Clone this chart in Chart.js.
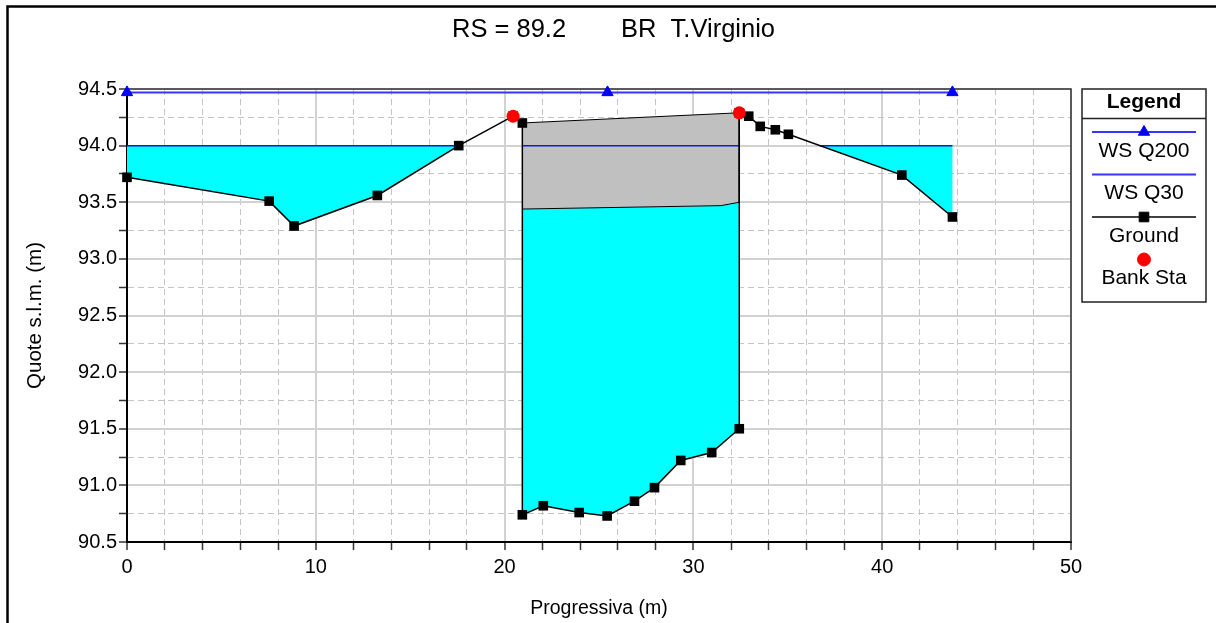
<!DOCTYPE html>
<html>
<head>
<meta charset="utf-8">
<title>RS = 89.2 BR T.Virginio</title>
<script src="https://cdn.jsdelivr.net/npm/chart.js@4.4.0/dist/chart.umd.min.js"></script>
<style>
  html, body { margin: 0; padding: 0; background: #fff; }
  #wrap { width: 1216px; height: 623px; }
</style>
</head>
<body>
<div id="wrap"><canvas id="chart" width="1216" height="623"></canvas></div>
<script>
// Cross section RS 89.2, bridge T.Virginio (stations and elevations in m)
const groundSta  = [0, 7.53, 8.85, 13.26, 17.57, 20.45, 20.94, 20.94, 22.05, 23.95, 25.43, 26.88,
                    27.94, 29.33, 30.97, 32.43, 32.43, 32.93, 33.54, 34.34, 35.03, 41.04, 43.72];
const groundElev = [93.72, 93.51, 93.29, 93.56, 94.00, 94.26, 94.20, 90.74, 90.82, 90.76, 90.73, 90.86,
                    90.98, 91.22, 91.29, 91.50, 94.29, 94.26, 94.17, 94.14, 94.10, 93.74, 93.37];

const bankSta  = [20.45, 32.43];
const bankElev = [94.26, 94.29];

// bridge deck: high chord and low chord
const deckSta      = [20.94, 32.43];
const deckHigh     = [94.20, 94.29];
const lowChordSta  = [20.94, 31.46, 32.43];
const lowChordElev = [93.44, 93.47, 93.50];

// water surfaces
const wsQ200 = 94.47;
const wsQ200Sta = [0, 25.45, 43.72];
const wsQ30 = 94.0;

// axes
const xRange = [0, 50];
const yRange = [90.5, 94.5];
const xStep = 2, xLabelEvery = 10;
const yStep = 0.25, yLabelEvery = 0.5;

const FONT = "'Liberation Sans', Arial, Helvetica, sans-serif";
const CYAN = '#00ffff';
const DECK = '#c0c0c0';
const Q200_COLOR = '#3535ff';
const Q30_COLOR = '#1414ee';

const toPoints = (xs, ys) => xs.map((x, i) => ({ x, y: ys[i] }));

// station where the ground line crosses a water level, searched between two stations
function groundCrossing(level, from, to) {
  for (let i = 0; i < groundSta.length - 1; i++) {
    const x0 = groundSta[i], x1 = groundSta[i + 1];
    const y0 = groundElev[i], y1 = groundElev[i + 1];
    if (x0 < from || x1 > to || x0 === x1) continue;
    if ((y0 - level) * (y1 - level) <= 0) {
      return x0 + (level - y0) / (y1 - y0) * (x1 - x0);
    }
  }
  return from;
}

// water polygon: surface from -> to, then back along the bed
function wetArea(level, from, to) {
  const bed = [];
  groundSta.forEach((x, i) => {
    if (x >= from && x <= to && groundElev[i] <= level) bed.push({ x, y: groundElev[i] });
  });
  return [{ x: from, y: level }, { x: to, y: level }, ...bed.reverse()];
}

const xStart = groundSta[0];
const xEnd = groundSta[groundSta.length - 1];
const leftEdge = groundCrossing(wsQ30, xStart, deckSta[0]);
const rightEdge = groundCrossing(wsQ30, deckSta[1], xEnd);

const openingBed = toPoints(groundSta, groundElev)
  .filter(p => p.x >= deckSta[0] && p.x <= deckSta[1] && p.y < lowChordElev[0]);
const openingWater = [...toPoints(lowChordSta, lowChordElev), ...openingBed.reverse()];
const deckShape = [...toPoints(deckSta, deckHigh), ...toPoints(lowChordSta, lowChordElev).reverse()];

const q30Line = [
  { x: xStart, y: wsQ30 }, { x: leftEdge, y: wsQ30 }, { x: leftEdge, y: null },
  { x: deckSta[0], y: wsQ30 }, { x: deckSta[1], y: wsQ30 }, { x: deckSta[1], y: null },
  { x: rightEdge, y: wsQ30 }, { x: xEnd, y: wsQ30 }
];

const polygon = (data, color, order, border) => ({
  data, order,
  backgroundColor: color,
  borderColor: border || 'rgba(0,0,0,0)',
  borderWidth: 1,
  fill: 'shape',
  pointRadius: 0
});

const isMajor = (v, every) => Math.abs(v / every - Math.round(v / every)) < 1e-6;

const frame = {
  id: 'frame',
  beforeDraw(chart) {
    const { ctx, width, height } = chart;
    ctx.save();
    ctx.fillStyle = '#fff';
    ctx.fillRect(0, 0, width, height);
    ctx.restore();
  },
  beforeDatasetsDraw(chart) {
    const { ctx, chartArea: a } = chart;
    ctx.save();
    ctx.strokeStyle = '#333';
    ctx.lineWidth = 1.5;
    ctx.beginPath();
    ctx.moveTo(a.left, a.top);
    ctx.lineTo(a.right, a.top);
    ctx.lineTo(a.right, a.bottom);
    ctx.stroke();
    ctx.restore();
  },
  afterDraw(chart) {
    const { ctx, width, height } = chart;
    ctx.save();
    // outer page frame
    ctx.strokeStyle = '#000';
    ctx.lineWidth = 2.5;
    ctx.beginPath();
    ctx.moveTo(7.5, height + 5);
    ctx.lineTo(7.5, 6.5);
    ctx.lineTo(width + 5, 6.5);
    ctx.stroke();

    // title
    ctx.fillStyle = '#000';
    ctx.font = '25.5px ' + FONT;
    ctx.textAlign = 'left';
    ctx.textBaseline = 'middle';
    ctx.fillText('RS = 89.2', 452, 30);
    ctx.fillText('BR  T.Virginio', 621, 30);

    // legend box
    const L = { left: 1082, top: 89, right: 1206, bottom: 302 };
    const cx = (L.left + L.right) / 2;
    ctx.textAlign = 'center';
    ctx.lineWidth = 1.5;
    ctx.strokeStyle = '#222';
    ctx.strokeRect(L.left, L.top, L.right - L.left, L.bottom - L.top);
    ctx.beginPath();
    ctx.moveTo(L.left, 118.5);
    ctx.lineTo(L.right, 118.5);
    ctx.stroke();
    ctx.font = 'bold 21px ' + FONT;
    ctx.fillText('Legend', cx, 102);

    const entries = [
      { text: 'WS Q200', y: 132, line: Q200_COLOR, width: 2, marker: 'triangle', color: '#0000ff', r: 6.5 },
      { text: 'WS Q30', y: 174.5, line: Q200_COLOR, width: 2 },
      { text: 'Ground', y: 217, line: '#000', width: 1.5, marker: 'rect', color: '#000', r: 6.8 },
      { text: 'Bank Sta', y: 259.5, marker: 'circle', color: '#ff0000', r: 6.5 }
    ];
    ctx.font = '21px ' + FONT;
    entries.forEach(e => {
      if (e.line) {
        ctx.strokeStyle = e.line;
        ctx.lineWidth = e.width;
        ctx.beginPath();
        ctx.moveTo(1092, e.y);
        ctx.lineTo(1196, e.y);
        ctx.stroke();
      }
      if (e.marker) {
        ctx.fillStyle = e.color;
        ctx.strokeStyle = e.color;
        ctx.lineWidth = 1;
        Chart.helpers.drawPoint(ctx, { pointStyle: e.marker, radius: e.r, rotation: 0, borderWidth: 1 }, cx, e.y);
      }
      ctx.fillStyle = '#000';
      ctx.fillText(e.text, cx, e.y + 19);
    });
    ctx.restore();
  }
};

Chart.defaults.font.family = FONT;
Chart.defaults.color = '#000';

new Chart(document.getElementById('chart'), {
  type: 'line',
  data: {
    datasets: [
      {
        label: 'Bank Sta',
        data: toPoints(bankSta, bankElev),
        order: 0,
        showLine: false,
        clip: false,
        pointStyle: 'circle',
        pointRadius: 6.5,
        pointBackgroundColor: '#ff0000',
        pointBorderColor: '#ff0000',
        pointBorderWidth: 0
      },
      {
        label: 'Ground',
        data: toPoints(groundSta, groundElev),
        order: 1,
        clip: false,
        borderColor: '#000',
        borderWidth: 1.5,
        pointStyle: 'rect',
        pointRadius: 6.8,
        pointBackgroundColor: '#000',
        pointBorderColor: '#000',
        pointBorderWidth: 0
      },
      {
        label: 'WS Q200',
        data: wsQ200Sta.map(x => ({ x, y: wsQ200 })),
        order: 2,
        clip: false,
        borderColor: Q200_COLOR,
        borderWidth: 2,
        pointStyle: 'triangle',
        pointRadius: 6.5,
        pointBackgroundColor: '#0000ff',
        pointBorderColor: '#0000ff',
        pointBorderWidth: 1
      },
      {
        label: 'WS Q30',
        data: q30Line,
        order: 3,
        borderColor: Q30_COLOR,
        borderWidth: 1.5,
        pointRadius: 0,
        spanGaps: false
      },
      polygon(deckShape, DECK, 4, '#000'),
      polygon(openingWater, CYAN, 5),
      polygon(wetArea(wsQ30, xStart, leftEdge), CYAN, 6),
      polygon(wetArea(wsQ30, rightEdge, xEnd), CYAN, 6)
    ]
  },
  options: {
    responsive: false,
    animation: false,
    events: [],
    layout: { padding: { top: 89, right: 145, left: 0, bottom: 0 } },
    plugins: {
      legend: { display: false },
      tooltip: { enabled: false },
      title: { display: false }
    },
    scales: {
      x: {
        type: 'linear',
        min: xRange[0],
        max: xRange[1],
        afterFit(scale) { scale.height = 81; },
        ticks: {
          stepSize: xStep,
          autoSkip: false,
          maxRotation: 0,
          padding: 5,
          font: { size: 20 },
          callback: v => isMajor(v, xLabelEvery) ? String(Math.round(v)) : ''
        },
        grid: {
          color: c => isMajor(c.tick.value, xLabelEvery) ? '#d2d2d2' : '#c4c4c4',
          lineWidth: c => isMajor(c.tick.value, xLabelEvery) ? 2 : 1,
          tickColor: '#333',
          tickWidth: 1.5,
          tickLength: 8,
          tickBorderDash: []
        },
        border: {
          color: '#000',
          width: 2,
          dash: c => (c.tick && !isMajor(c.tick.value, xLabelEvery)) ? [6, 4] : []
        },
        title: {
          display: true,
          text: 'Progressiva (m)',
          font: { size: 19.5 },
          padding: { top: 0, bottom: 3 }
        }
      },
      y: {
        min: yRange[0],
        max: yRange[1],
        afterFit(scale) { scale.width = 127; },
        ticks: {
          stepSize: yStep,
          autoSkip: false,
          padding: 2,
          font: { size: 20 },
          callback: v => isMajor(v, yLabelEvery) ? v.toFixed(1) : ''
        },
        grid: {
          color: c => isMajor(c.tick.value, yLabelEvery) ? '#d2d2d2' : '#c4c4c4',
          lineWidth: c => isMajor(c.tick.value, yLabelEvery) ? 2 : 1,
          tickColor: '#333',
          tickWidth: 1.5,
          tickLength: 8,
          tickBorderDash: []
        },
        border: {
          color: '#000',
          width: 2,
          dash: c => (c.tick && !isMajor(c.tick.value, yLabelEvery)) ? [6, 4] : []
        },
        title: {
          display: true,
          text: 'Quote s.l.m. (m)',
          font: { size: 20.5 },
          padding: { top: 23, bottom: 0 }
        }
      }
    }
  },
  plugins: [frame]
});
</script>
</body>
</html>
